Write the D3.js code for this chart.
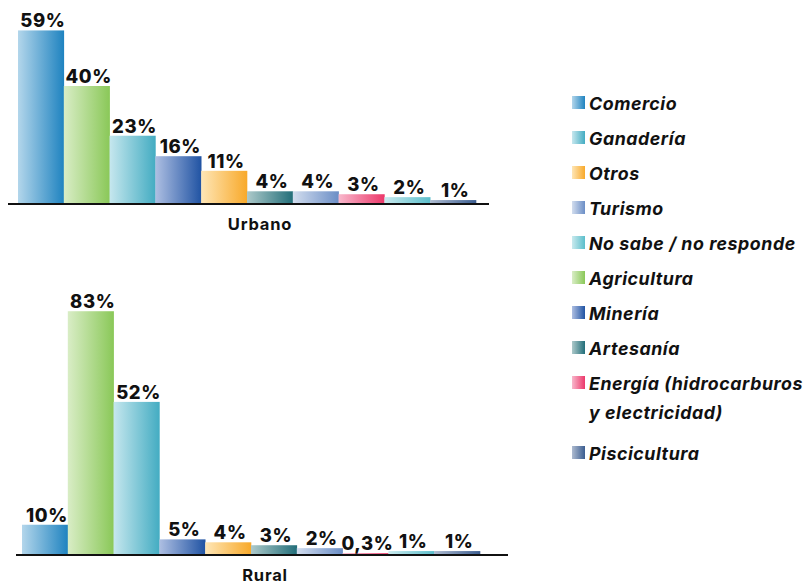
<!DOCTYPE html>
<html>
<head>
<meta charset="utf-8">
<script src="https://cdn.jsdelivr.net/npm/d3@7"></script>
<style>
  body { margin: 0; background: #fff; }
  svg text { font-family: Inter, Lato, sans-serif; fill: #111; }
</style>
</head>
<body>
<svg id="chart" width="804" height="583"></svg>
<script>
// ----- data -----
var categories = ["Comercio", "Ganadería", "Otros", "Turismo", "No sabe / no responde",
                  "Agricultura", "Minería", "Artesanía", "Energía (hidrocarburos|y electricidad)", "Piscicultura"];

var urbanCats = ["Comercio", "Agricultura", "Ganadería", "Minería", "Otros",
                 "Artesanía", "Turismo", "Energía (hidrocarburos|y electricidad)", "No sabe / no responde", "Piscicultura"];
var urbanValues = [59, 40, 23, 16, 11, 4, 4, 3, 2, 1];

var ruralCats = ["Comercio", "Agricultura", "Ganadería", "Minería", "Otros",
                 "Artesanía", "Turismo", "Energía (hidrocarburos|y electricidad)", "No sabe / no responde", "Piscicultura"];
var ruralValues = [10, 83, 52, 5, 4, 3, 2, 0.3, 1, 1];

// light -> strong, same order as categories
var lightColors = ["#b3d6eb", "#c6e7ee", "#fee6b6", "#d2ddee", "#c9eaee",
                   "#d9edc6", "#aebfe2", "#adc9ca", "#f8b8cc", "#aebbd0"];
var darkColors  = ["#1f83c0", "#43acc2", "#f8a92a", "#6b8ec6", "#5bbecb",
                   "#8ac858", "#2053a3", "#226e79", "#ec386a", "#3b5d90"];

var svg = d3.select("#chart");
var defs = svg.append("defs");

var color = d3.scaleOrdinal().domain(categories).range(d3.range(categories.length));

categories.forEach(function(c, i){
  var g = defs.append("linearGradient")
      .attr("id", "grad" + i)
      .attr("x1", "0%").attr("x2", "100%").attr("y1", "0%").attr("y2", "0%");
  g.append("stop").attr("offset", "0%").attr("stop-color", lightColors[i]);
  g.append("stop").attr("offset", "100%").attr("stop-color", darkColors[i]);
});

function fill(c){ return "url(#grad" + color(c) + ")"; }

function fmt(v){ return String(v).replace(".", ",") + "%"; }

// value -> pixel height
var h = d3.scaleLinear().domain([0, 100]).range([0, 292.5]);

function panel(cats, values, x0, x1, base, lineX0, lineX1, title, titleX){
  var x = d3.scaleBand().domain(d3.range(cats.length)).range([x0, x1]).padding(0);
  var g = svg.append("g");

  g.selectAll("rect").data(values).enter().append("rect")
    .attr("x", function(d, i){ return x(i); })
    .attr("width", x.bandwidth() + 0.3)
    .attr("y", function(d){ return base - h(d); })
    .attr("height", function(d){ return h(d); })
    .attr("fill", function(d, i){ return fill(cats[i]); });

  g.append("line")
    .attr("x1", lineX0).attr("x2", lineX1)
    .attr("y1", base + 1).attr("y2", base + 1)
    .attr("stroke", "#111").attr("stroke-width", 2.2);

  g.selectAll("text.val").data(values).enter().append("text")
    .attr("class", "val")
    .attr("x", function(d, i){ return x(i) + x.bandwidth() / 2 + 2; })
    .attr("y", function(d){ return base - h(d) - 3; })
    .attr("text-anchor", "middle")
    .style("font-size", "18.5px").style("font-weight", "800").style("letter-spacing", "0.6px")
    .text(fmt);

  g.append("text")
    .attr("x", titleX).attr("y", base + 26.5)
    .attr("text-anchor", "middle")
    .style("font-size", "16.5px").style("font-weight", "700").style("letter-spacing", "0.8px")
    .text(title);
}

panel(urbanCats, urbanValues, 18, 476, 203, 8, 489, "Urbano", 260);
panel(ruralCats, ruralValues, 22, 480, 554, 16, 508, "Rural", 265);

// ----- legend -----
var legY = [103, 138, 173, 208, 243, 278, 313, 348, 383, 453];
var leg = svg.append("g");
categories.forEach(function(c, i){
  leg.append("rect")
    .attr("x", 572).attr("y", legY[i] - 7)
    .attr("width", 13).attr("height", 13)
    .attr("fill", fill(c));
  var lines = c.split("|");
  lines.forEach(function(t, j){
    leg.append("text")
      .attr("x", 589).attr("y", legY[i] + 6.5 + j * 29)
      .style("font-size", "17.8px").style("font-weight", "700").style("font-style", "italic")
      .style("letter-spacing", "0.55px")
      .text(t);
  });
});
</script>
</body>
</html>
